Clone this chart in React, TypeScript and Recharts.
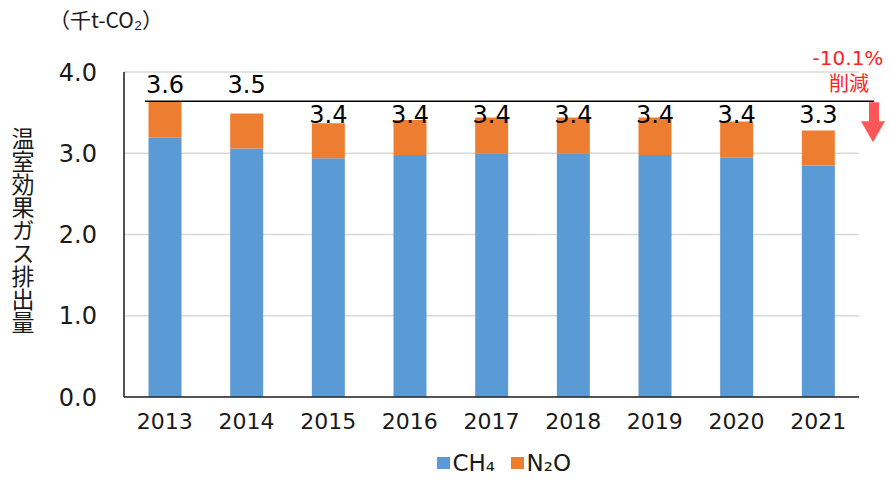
import { BarChart, Bar, XAxis, YAxis, CartesianGrid, Legend, LabelList, ReferenceLine } from 'recharts';

const years = ['2013', '2014', '2015', '2016', '2017', '2018', '2019', '2020', '2021'];
const ch4 = [3.19, 3.06, 2.94, 2.98, 3.0, 3.0, 2.98, 2.95, 2.85];
const n2o = [0.45, 0.43, 0.43, 0.43, 0.44, 0.44, 0.46, 0.44, 0.43];
const yTicks = [0, 1, 2, 3, 4];
const unitLabel = '（千t-CO₂）';
const yTitle = '温室効果ガス排出量';
const changeText = '-10.1%';
const changeNote = '削減';

const FONT = "'DejaVu Sans', 'Noto Sans CJK JP', sans-serif";
const CJK = "'Noto Sans CJK JP', sans-serif";
const BLUE = '#5B9BD5';
const ORANGE = '#ED7D31';
const RED = '#FF1F1F';
const ARROW = '#FF5757';
const INK = '#1a1a1a';

const data = years.map((y, i) => ({
  year: y,
  ch4: ch4[i],
  n2o: n2o[i],
  total: ch4[i] + n2o[i],
}));

// total label: first two sit above the base line, rest hang at one height
const TotalLabel = (p: any) => {
  const { x, width, index, value } = p;
  const baseY = index < 2 ? 93 : 123;
  return (
    <text x={x + width / 2} y={baseY} textAnchor="middle" fontSize={24} fontFamily={FONT} fill="#000">
      {Number(value).toFixed(1)}
    </text>
  );
};

const BaseLine = (p: any) => {
  const { x1, y1, x2 } = p;
  return (
    <g>
      <line x1={x1 + 21} y1={y1} x2={x2 + 15} y2={y1} stroke="#000" strokeWidth={1.3} />
      <rect x={x2 + 10} y={y1 + 1} width={10} height={20} fill={ARROW} />
      <polygon points={`${x2 + 2},${y1 + 20} ${x2 + 26},${y1 + 20} ${x2 + 14},${y1 + 41}`} fill={ARROW} />
      <text x={x2 - 11} y={y1 - 36} textAnchor="middle" fontSize={20} fontFamily={FONT} fill={RED}>
        {changeText}
      </text>
      <text x={x2 - 10} y={y1 - 10} textAnchor="middle" fontSize={20} fontFamily={CJK} fill={RED}>
        {changeNote}
      </text>
    </g>
  );
};

const LegendBox = () => (
  <div style={{ display: 'flex', alignItems: 'center', fontFamily: FONT, fontSize: 23, color: INK }}>
    <span style={{ width: 12.5, height: 12.5, background: BLUE, marginRight: 3 }} />
    <span style={{ marginRight: 16 }}>CH₄</span>
    <span style={{ width: 12.5, height: 12.5, background: ORANGE, marginRight: 3 }} />
    <span>N₂O</span>
  </div>
);

export default function App() {
  return (
    <div style={{ position: 'absolute', left: 0, top: 0, width: 890, height: 482, background: '#fff' }}>
      <div style={{ position: 'absolute', left: 49, top: 4, fontSize: 21, fontFamily: CJK, color: INK, whiteSpace: 'nowrap' }}>
        {unitLabel}
      </div>
      <div
        style={{
          position: 'absolute',
          left: 11,
          top: 127,
          fontSize: 23,
          lineHeight: 1,
          fontFamily: CJK,
          color: INK,
          writingMode: 'vertical-rl',
        }}
      >
        {yTitle}
      </div>
      <BarChart
        width={890}
        height={482}
        data={data}
        margin={{ top: 72, right: 31, left: 0, bottom: 55 }}
        barCategoryGap="30%"
      >
        <CartesianGrid vertical={false} stroke="#d9d9d9" strokeWidth={1.3} />
        <XAxis
          dataKey="year"
          height={30}
          tickLine={false}
          tickMargin={10}
          axisLine={{ stroke: '#262626', strokeWidth: 1.6 }}
          tick={{ fontSize: 22, fontFamily: FONT, fill: INK }}
        />
        <YAxis
          width={124}
          domain={[0, 4]}
          ticks={yTicks}
          tickFormatter={(v: number) => v.toFixed(1)}
          tickLine={false}
          tickMargin={21}
          axisLine={{ stroke: '#262626', strokeWidth: 1.6 }}
          tick={{ fontSize: 24, fontFamily: FONT, fill: INK }}
        />
        <Legend
          verticalAlign="middle"
          align="center"
          content={() => <LegendBox />}
          wrapperStyle={{ top: 450, left: 437, width: 'auto', height: 'auto' }}
        />
        <Bar dataKey="ch4" name="CH₄" stackId="a" fill={BLUE} isAnimationActive={false} />
        <Bar dataKey="n2o" name="N₂O" stackId="a" fill={ORANGE} isAnimationActive={false}>
          <LabelList dataKey="total" content={TotalLabel} />
        </Bar>
        <ReferenceLine y={data[0].total} shape={BaseLine} />
      </BarChart>
    </div>
  );
}
